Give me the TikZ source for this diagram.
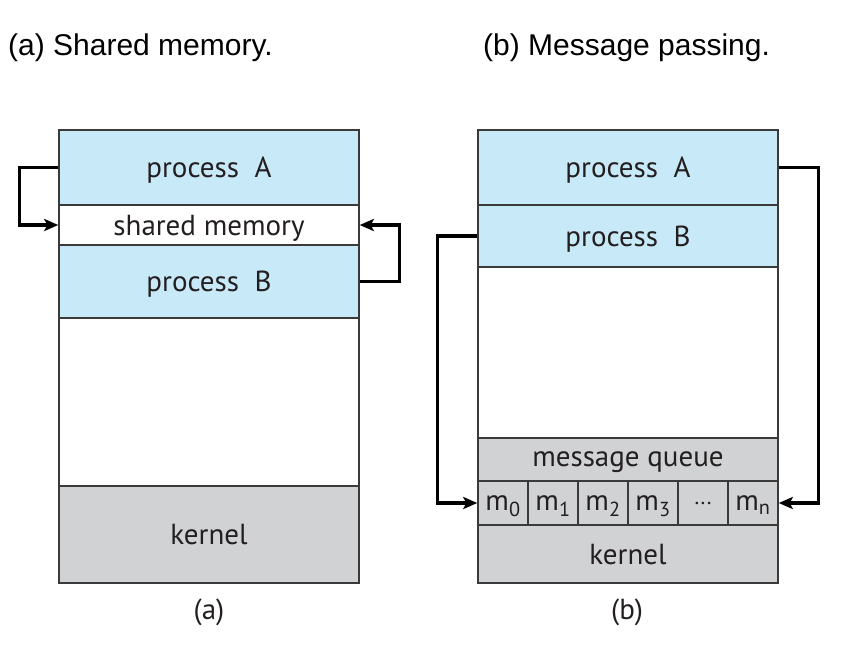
\documentclass[tikz,border=0pt]{standalone}
\usepackage{fontspec}
\setmainfont{PT Sans}
\newfontfamily\titlefont{Liberation Sans}
\usetikzlibrary{arrows.meta}
\definecolor{pblue}{HTML}{C8E9F8}
\definecolor{kgray}{HTML}{D1D2D4}
\definecolor{edge}{HTML}{3A3A3A}
\definecolor{ink}{HTML}{231F20}
\begin{document}
\begin{tikzpicture}[x=1pt,y=-1pt,
  blk/.style={draw=edge,line width=1.5pt,minimum width=300pt,inner sep=0pt,text depth=0pt,text=ink,font=\fontsize{29}{34}\selectfont},
  cell/.style={draw=edge,line width=1.5pt,minimum width=50pt,minimum height=44pt,inner sep=0pt,text depth=0pt,text=ink,fill=kgray,font=\fontsize{29}{34}\selectfont},
  arr/.style={line width=3.4pt,-{Stealth[length=14pt,width=12pt,inset=3pt]}},
  ttl/.style={anchor=west,inner sep=0pt,font=\titlefont\fontsize{30}{36}\selectfont},
  subcap/.style={inner sep=0pt,text=ink,font=\fontsize{29}{34}\selectfont}]
\useasboundingbox (0,0) rectangle (861,649);
% titles
\node[ttl] (t1) at (8,48) {(a) Shared memory.};
\node[ttl] (t2) at (483,48) {(b) Message passing.};
% left diagram
\node[blk,fill=pblue,minimum height=75pt] (lA) at (209,167.5) {process\ \ A};
\node[blk,fill=white,minimum height=40pt] (lS) at (209,225) {shared memory};
\node[blk,fill=pblue,minimum height=73pt] (lB) at (209,281.5) {process\ \ B};
\node[blk,fill=white,minimum height=168pt] (lW) at (209,402) {};
\node[blk,fill=kgray,minimum height=97pt] (lK) at (209,534.5) {kernel};
\node[subcap] (ca) at (209,612) {(a)};
\draw[arr] (lA.west) -- ++(-39,0) |- (lS.west);
\draw[arr] (lB.east) -- ++(40,0) |- (lS.east);
% right diagram
\node[blk,fill=pblue,minimum height=75pt] (rA) at (628,167.5) {process\ \ A};
\node[blk,fill=pblue,minimum height=62pt] (rB) at (628,236) {process\ \ B};
\node[blk,fill=white,minimum height=171pt] (rW) at (628,352.5) {};
\node[blk,fill=kgray,minimum height=43pt] (rQ) at (628,459.5) {message queue};
\node[cell] (m0) at (503,503) {m\textsubscript{0}};
\node[cell] (m1) at (553,503) {m\textsubscript{1}};
\node[cell] (m2) at (603,503) {m\textsubscript{2}};
\node[cell] (m3) at (653,503) {m\textsubscript{3}};
\node[cell] (md) at (703,503) {\fontsize{22}{26}\selectfont ...};
\node[cell] (mn) at (753,503) {m\textsubscript{n}};
\node[blk,fill=kgray,minimum height=58pt] (rK) at (628,554) {kernel};
\node[subcap] (cb) at (627,612) {(b)};
\draw[arr] (rB.west) -- ++(-40,0) |- (m0.west);
\draw[arr] (rA.east) -- ++(40,0) |- (mn.east);
\end{tikzpicture}
\end{document}
